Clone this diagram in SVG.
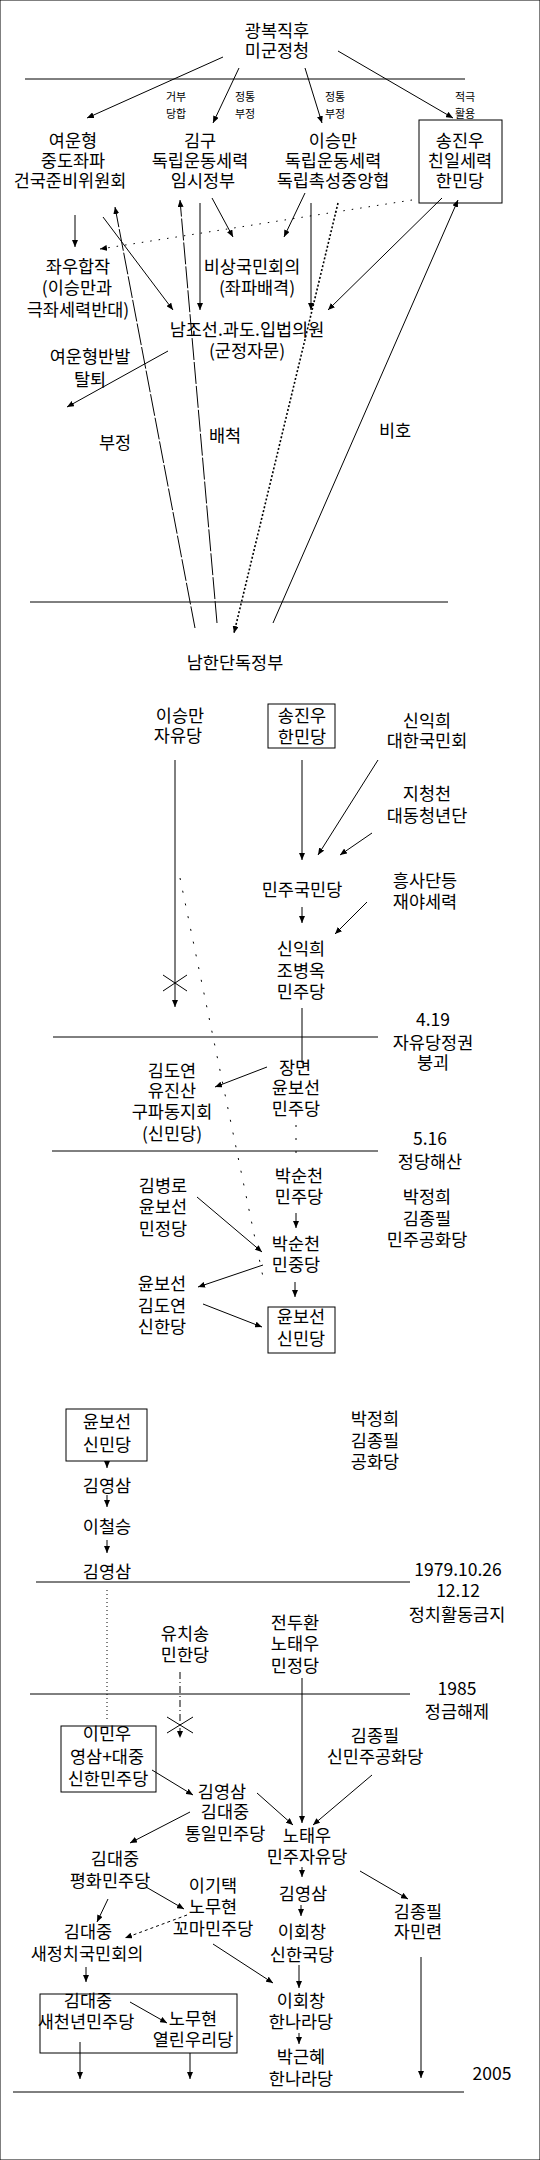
<svg xmlns="http://www.w3.org/2000/svg" width="540" height="2160" viewBox="0 0 540 2160">
<style>
text{font-family:"Noto Sans CJK KR","Liberation Sans",sans-serif;font-size:17.5px;fill:#000;text-anchor:middle}
text.s{font-size:11px}
.c line,.c path{stroke:#000;stroke-width:1;fill:none}
.a{marker-end:url(#ah)}
.ld{stroke-dasharray:22 2}
.sp{stroke-dasharray:1.5 7}
.hd{stroke-width:1.6 !important;stroke-dasharray:2 2}
.dd{stroke-dasharray:3 3}
.dt{stroke-dasharray:1 3}
.dx{stroke-dasharray:7 3 1 3}
.sd{stroke-dasharray:2 11}
rect{fill:none;stroke:#000;stroke-width:1}
.h{stroke:#000;stroke-width:1}
</style>
<defs>
<marker id="ah" markerUnits="userSpaceOnUse" markerWidth="8" markerHeight="6" refX="7" refY="3" orient="auto">
<path d="M0,0 L7,3 L0,6 z" fill="#000"/>
</marker>
</defs>
<rect width="540" height="2160" fill="#fff" stroke="none"/>
<g id="timelines">
<line class="h" x1="25" y1="79" x2="465" y2="79"/>
<line class="h" x1="30" y1="602" x2="448" y2="602"/>
<line class="h" x1="53" y1="1037" x2="378" y2="1037"/>
<line class="h" x1="52" y1="1151" x2="378" y2="1151"/>
<line class="h" x1="36" y1="1582" x2="410" y2="1582"/>
<line class="h" x1="30" y1="1694" x2="410" y2="1694"/>
<line class="h" x1="13" y1="2092" x2="464" y2="2092"/>
</g>
<g class="c" id="connectors">
<line class="a" x1="223" y1="57" x2="87" y2="118"/>
<line class="a" x1="239" y1="68" x2="213" y2="123"/>
<line class="a" x1="305" y1="68" x2="322" y2="123"/>
<line class="a" x1="338" y1="51" x2="453" y2="118"/>
<line class="a" x1="75" y1="215" x2="75" y2="247"/>
<line class="a sp" x1="412" y1="200" x2="100" y2="249"/>
<line class="a" x1="103" y1="217" x2="173" y2="310"/>
<line class="a ld" x1="195" y1="628" x2="115" y2="207"/>
<line class="a ld" x1="217" y1="623" x2="180" y2="200"/>
<line class="a" x1="200" y1="203" x2="200" y2="310"/>
<line class="a" x1="212" y1="198" x2="233" y2="237"/>
<line class="a" x1="305" y1="193" x2="284" y2="237"/>
<line class="a" x1="311" y1="203" x2="311" y2="310"/>
<line class="a hd" x1="338" y1="203" x2="234" y2="633"/>
<line class="a" x1="442" y1="198" x2="328" y2="310"/>
<line class="a" x1="273" y1="623" x2="458" y2="200"/>
<line class="a" x1="168" y1="351" x2="67" y2="407"/>
<line class="a" x1="175" y1="760" x2="175" y2="1007"/>
<line x1="163" y1="975" x2="187" y2="991"/>
<line x1="163" y1="991" x2="187" y2="975"/>
<line class="a" x1="302" y1="760" x2="302" y2="860"/>
<line class="a" x1="378" y1="760" x2="318" y2="855"/>
<line class="a" x1="372" y1="833" x2="340" y2="855"/>
<line class="sd" x1="180" y1="878" x2="263" y2="1277"/>
<line class="a" x1="302" y1="907" x2="302" y2="923"/>
<line class="a" x1="367" y1="902" x2="335" y2="934"/>
<line x1="302" y1="1008" x2="302" y2="1063"/>
<line class="a" x1="267" y1="1067" x2="215" y2="1087"/>
<line class="sd" x1="296" y1="1125" x2="296" y2="1162"/>
<line class="a" x1="296" y1="1213" x2="296" y2="1228"/>
<line class="a" x1="197" y1="1197" x2="262" y2="1252"/>
<line class="a" x1="263" y1="1265" x2="198" y2="1287"/>
<line class="a" x1="295" y1="1282" x2="295" y2="1297"/>
<line class="a" x1="203" y1="1304" x2="262" y2="1327"/>
<line class="a" x1="107" y1="1461" x2="107" y2="1468"/>
<line class="a" x1="107" y1="1495" x2="107" y2="1507"/>
<line class="a" x1="107" y1="1540" x2="107" y2="1553"/>
<line class="dt" x1="107" y1="1590" x2="107" y2="1722"/>
<line class="a dx" x1="180" y1="1672" x2="180" y2="1738"/>
<line x1="167" y1="1717" x2="193" y2="1733"/>
<line x1="167" y1="1733" x2="193" y2="1717"/>
<line class="a" x1="302" y1="1678" x2="302" y2="1823"/>
<line class="a" x1="152" y1="1770" x2="193" y2="1795"/>
<line class="a" x1="372" y1="1775" x2="313" y2="1825"/>
<line class="a" x1="257" y1="1793" x2="293" y2="1825"/>
<line class="a" x1="190" y1="1812" x2="130" y2="1843"/>
<line class="a" x1="302" y1="1867" x2="302" y2="1877"/>
<line class="a" x1="360" y1="1871" x2="408" y2="1899"/>
<line class="a" x1="301" y1="1905" x2="301" y2="1916"/>
<line class="a" x1="146" y1="1887" x2="184" y2="1909"/>
<line class="a" x1="108" y1="1899" x2="97" y2="1922"/>
<line class="a dd" x1="187" y1="1915" x2="125" y2="1938"/>
<line class="a" x1="213" y1="1944" x2="273" y2="1983"/>
<line class="a" x1="299" y1="1965" x2="299" y2="1988"/>
<line class="a" x1="421" y1="1957" x2="421" y2="2078"/>
<line class="a" x1="86" y1="1967" x2="86" y2="1982"/>
<line class="a" x1="130" y1="2002" x2="167" y2="2023"/>
<line class="a" x1="299" y1="2033" x2="299" y2="2044"/>
<line class="a" x1="80" y1="2042" x2="80" y2="2079"/>
<line class="a" x1="190" y1="2053" x2="190" y2="2079"/>
</g>
<g id="labels">
<text class="s" x="176" y="101">거부</text><text class="s" x="176" y="118">당합</text>
<text class="s" x="245" y="101">정통</text><text class="s" x="245" y="118">부정</text>
<text class="s" x="335" y="101">정통</text><text class="s" x="335" y="118">부정</text>
<text class="s" x="465" y="101">적극</text><text class="s" x="465" y="118">활용</text>
<text x="115" y="449">부정</text>
<text x="225" y="442">배척</text>
<text x="395" y="437">비호</text>
</g>
<g id="n-migun"><text x="277" y="37">광복직후</text><text x="277" y="57">미군정청</text></g>
<g id="n-yeo"><text x="73" y="147">여운형</text><text x="73" y="167">중도좌파</text><text x="70" y="187">건국준비위원회</text></g>
<g id="n-kimgu"><text x="200" y="147">김구</text><text x="200" y="167">독립운동세력</text><text x="203" y="187">임시정부</text></g>
<g id="n-lee"><text x="333" y="147">이승만</text><text x="333" y="167">독립운동세력</text><text x="333" y="187">독립촉성중앙협</text></g>
<g id="n-song"><rect x="419" y="120" width="83" height="83"/><text x="460" y="147">송진우</text><text x="460" y="167">친일세력</text><text x="460" y="187">한민당</text></g>
<g id="n-jwau"><text x="78" y="273">좌우합작</text><text x="77" y="294">(이승만과</text><text x="78" y="316">극좌세력반대)</text></g>
<g id="n-bisang"><text x="252" y="273">비상국민회의</text><text x="257" y="294">(좌파배격)</text></g>
<g id="n-ipbeop"><text x="247" y="336">남조선.과도.입법의원</text><text x="247" y="357">(군정자문)</text></g>
<g id="n-yeoban"><text x="90" y="363">여운형반발</text><text x="90" y="386">탈퇴</text></g>
<g id="n-namhan"><text x="235" y="669">남한단독정부</text></g>
<g id="n-jayu"><text x="180" y="722">이승만</text><text x="178" y="742">자유당</text></g>
<g id="n-hanmin"><rect x="268" y="704" width="67" height="44"/><text x="302" y="722">송진우</text><text x="302" y="743">한민당</text></g>
<g id="n-sin1"><text x="427" y="727">신익희</text><text x="427" y="747">대한국민회</text></g>
<g id="n-ji"><text x="427" y="800">지청천</text><text x="427" y="822">대동청년단</text></g>
<g id="n-minguk"><text x="302" y="896">민주국민당</text></g>
<g id="n-heung"><text x="425" y="887">흥사단등</text><text x="425" y="908">재야세력</text></g>
<g id="n-minju1"><text x="301" y="955">신익희</text><text x="301" y="977">조병옥</text><text x="301" y="998">민주당</text></g>
<g id="n-419"><text x="433" y="1026">4.19</text><text x="433" y="1049">자유당정권</text><text x="433" y="1069">붕괴</text></g>
<g id="n-gupa"><text x="172" y="1077">김도연</text><text x="172" y="1097">유진산</text><text x="172" y="1118">구파동지회</text><text x="172" y="1140">(신민당)</text></g>
<g id="n-jang"><text x="295" y="1074">장면</text><text x="296" y="1094">윤보선</text><text x="296" y="1115">민주당</text></g>
<g id="n-516"><text x="430" y="1145">5.16</text><text x="430" y="1168">정당해산</text></g>
<g id="n-park1"><text x="299" y="1182">박순천</text><text x="299" y="1203">민주당</text></g>
<g id="n-minjeong"><text x="163" y="1192">김병로</text><text x="163" y="1213">윤보선</text><text x="163" y="1235">민정당</text></g>
<g id="n-gonghwa1"><text x="427" y="1203">박정희</text><text x="427" y="1225">김종필</text><text x="427" y="1246">민주공화당</text></g>
<g id="n-minjung"><text x="296" y="1250">박순천</text><text x="296" y="1271">민중당</text></g>
<g id="n-sinhan"><text x="162" y="1290">윤보선</text><text x="162" y="1312">김도연</text><text x="162" y="1333">신한당</text></g>
<g id="n-sinmin1"><rect x="268" y="1307" width="67" height="46"/><text x="301" y="1323">윤보선</text><text x="301" y="1345">신민당</text></g>
<g id="n-sinmin2"><rect x="66" y="1409" width="81" height="52"/><text x="107" y="1428">윤보선</text><text x="107" y="1451">신민당</text></g>
<g id="n-gonghwa2"><text x="375" y="1425">박정희</text><text x="375" y="1447">김종필</text><text x="375" y="1468">공화당</text></g>
<g id="n-ys1"><text x="107" y="1492">김영삼</text></g>
<g id="n-lcs"><text x="107" y="1533">이철승</text></g>
<g id="n-ys2"><text x="107" y="1578">김영삼</text></g>
<g id="n-1979"><text x="458" y="1576">1979.10.26</text><text x="458" y="1597">12.12</text><text x="457" y="1621">정치활동금지</text></g>
<g id="n-minjeong2"><text x="295" y="1629">전두환</text><text x="295" y="1650">노태우</text><text x="295" y="1672">민정당</text></g>
<g id="n-minhan"><text x="185" y="1640">유치송</text><text x="185" y="1661">민한당</text></g>
<g id="n-1985"><text x="457" y="1695">1985</text><text x="457" y="1718">정금해제</text></g>
<g id="n-sinhanminju"><rect x="61" y="1726" width="95" height="66"/><text x="107" y="1740">이민우</text><text x="107" y="1763">영삼+대중</text><text x="108" y="1785">신한민주당</text></g>
<g id="n-sinminju"><text x="375" y="1742">김종필</text><text x="375" y="1763">신민주공화당</text></g>
<g id="n-tongil"><text x="222" y="1798">김영삼</text><text x="225" y="1818">김대중</text><text x="225" y="1840">통일민주당</text></g>
<g id="n-minja"><text x="307" y="1842">노태우</text><text x="307" y="1863">민주자유당</text></g>
<g id="n-pyeonghwa"><text x="115" y="1865">김대중</text><text x="110" y="1887">평화민주당</text></g>
<g id="n-kkoma"><text x="213" y="1892">이기택</text><text x="213" y="1913">노무현</text><text x="213" y="1935">꼬마민주당</text></g>
<g id="n-ys3"><text x="303" y="1900">김영삼</text></g>
<g id="n-jamin"><text x="418" y="1918">김종필</text><text x="418" y="1938">자민련</text></g>
<g id="n-sinhanguk"><text x="302" y="1938">이회창</text><text x="302" y="1961">신한국당</text></g>
<g id="n-saejeong"><text x="88" y="1938">김대중</text><text x="87" y="1960">새정치국민회의</text></g>
<g id="n-group2005"><rect x="40" y="1994" width="197" height="59"/></g>
<g id="n-saecheon"><text x="88" y="2007">김대중</text><text x="86" y="2028">새천년민주당</text></g>
<g id="n-yeollin"><text x="193" y="2025">노무현</text><text x="193" y="2046">열린우리당</text></g>
<g id="n-hannara1"><text x="301" y="2007">이회창</text><text x="301" y="2028">한나라당</text></g>
<g id="n-hannara2"><text x="301" y="2063">박근혜</text><text x="301" y="2085">한나라당</text></g>
<g id="n-2005"><text x="492" y="2080">2005</text></g>
</svg>
